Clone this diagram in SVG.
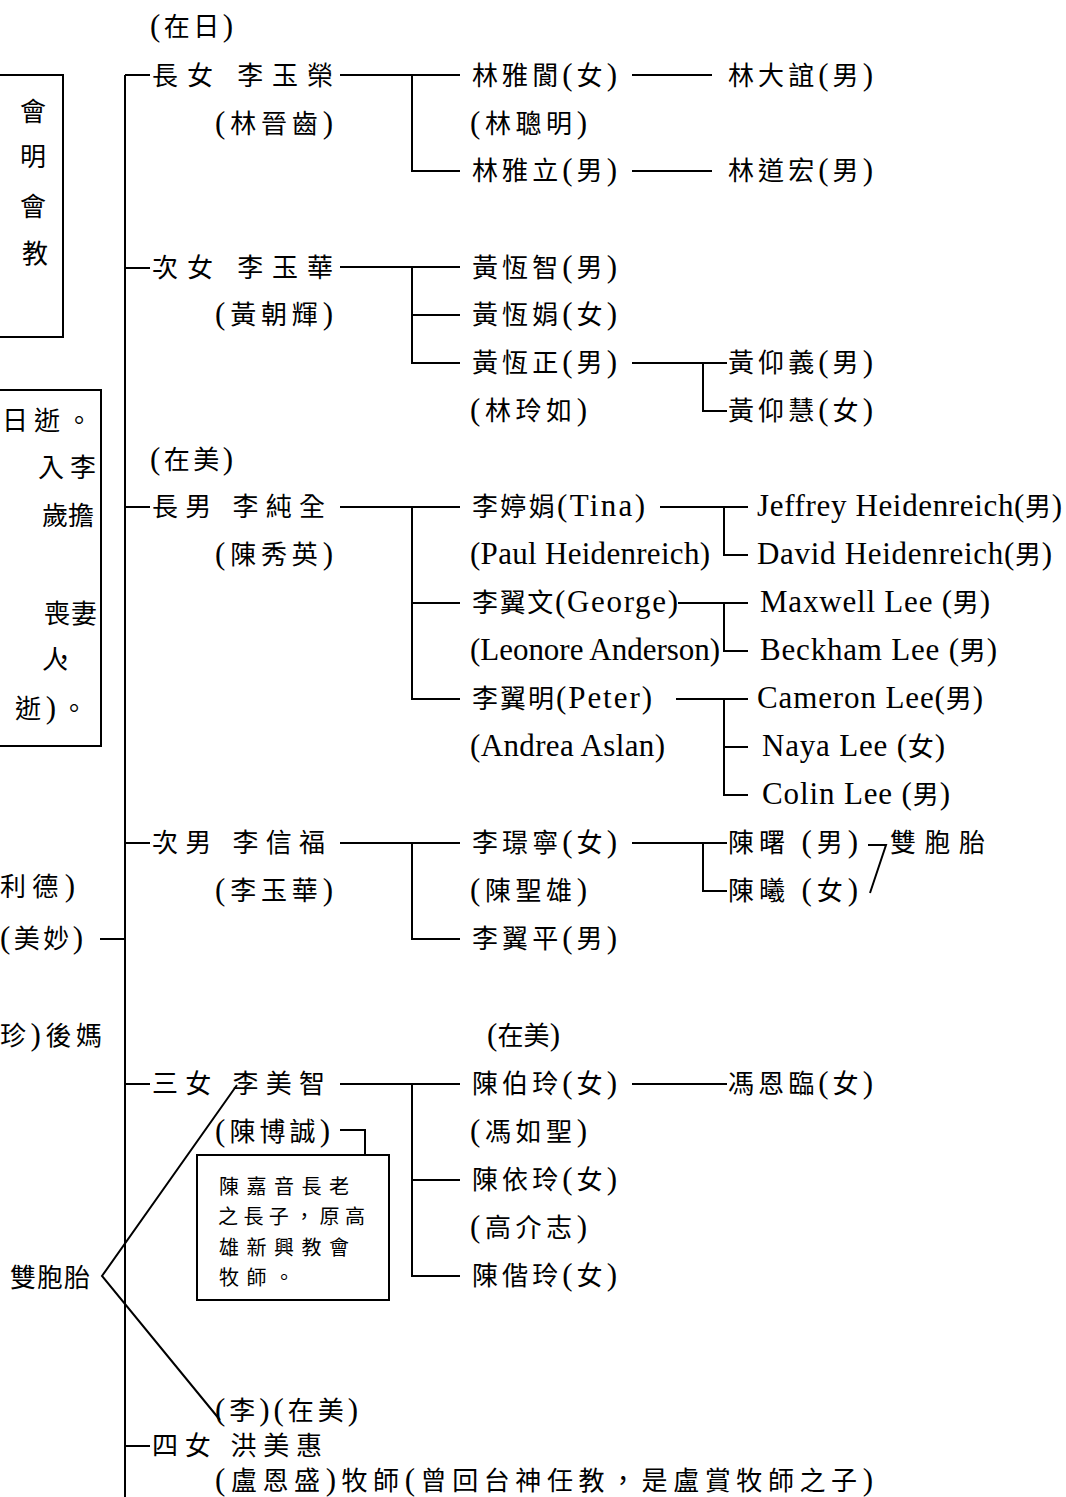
<svg xmlns="http://www.w3.org/2000/svg" width="1066" height="1497" viewBox="0 0 1066 1497">
<style>
.t{font-family:"Liberation Serif","Noto Sans CJK TC",serif;font-size:26px;fill:#000}
.e{font-size:31px}
.s{font-size:20px}
.ln{stroke:#000;stroke-width:2;fill:none}
.bx{stroke:#000;stroke-width:2;fill:none}
</style>
<rect width="1066" height="1497" fill="#fff"/>

<g id="leftbox1">
<rect class="bx" x="-10" y="75" width="73" height="262"/>
<text class="t" x="20" y="121">會</text>
<text class="t" x="20" y="166">明</text>
<text class="t" x="20" y="216">會</text>
<text class="t" x="22" y="263">教</text>
</g>

<g id="leftbox2">
<rect class="bx" x="-10" y="390" width="111" height="356"/>
<text class="t" x="2" y="430" textLength="90" lengthAdjust="spacing">日逝。</text>
<text class="t" x="38" y="477" textLength="58" lengthAdjust="spacing">入李</text>
<text class="t" x="42" y="525" textLength="52" lengthAdjust="spacing">歲擔</text>
<text class="t" x="44" y="623" textLength="53" lengthAdjust="spacing">喪妻</text>
<text class="t" x="42" y="669" textLength="35" lengthAdjust="spacing">人，</text>
<text class="t" x="15" y="718" textLength="72" lengthAdjust="spacing">逝<tspan class="e">)</tspan>。</text>
</g>

<g id="leftnotes">
<text class="t" x="0" y="896" textLength="75" lengthAdjust="spacing">利德<tspan class="e">)</tspan></text>
<text class="t" x="0" y="948" textLength="83" lengthAdjust="spacing"><tspan class="e">(</tspan>美妙<tspan class="e">)</tspan></text>
<text class="t" x="0" y="1045" textLength="102" lengthAdjust="spacing">珍<tspan class="e">)</tspan>後媽</text>
<text class="t" x="10" y="1287" textLength="80" lengthAdjust="spacing">雙胞胎</text>
</g>

<g id="connectors">
<path class="ln" d="M125 75 V1497 M125 75 H150 M125 268 H150 M125 507 H150 M125 843 H150 M100 939 H125 M125 1084 H150 M125 1446 H150"/>
<path class="ln" d="M340 75 H460 M412 75 V171 H460"/>
<path class="ln" d="M340 267 H460 M412 267 V363 H460 M412 315 H460"/>
<path class="ln" d="M340 507 H460 M412 507 V699 H460 M412 603 H460"/>
<path class="ln" d="M340 843 H460 M412 843 V939 H460"/>
<path class="ln" d="M340 1084 H460 M412 1084 V1276 H460 M412 1180 H460"/>
<path class="ln" d="M632 75 H712 M632 171 H712"/>
<path class="ln" d="M632 363 H727 M703 363 V411 H727"/>
<path class="ln" d="M660 507 H748 M724 507 V555 H748"/>
<path class="ln" d="M678 603 H748 M724 603 V651 H748"/>
<path class="ln" d="M676 699 H748 M724 699 V795 H748 M724 747 H748"/>
<path class="ln" d="M632 843 H727 M703 843 V891 H727"/>
<path class="ln" d="M632 1084 H727"/>
<path class="ln" d="M868 845 H886 L870 893"/>
<path class="ln" d="M340 1130 H365 V1155"/>
<path class="ln" d="M237 1085 L102 1276 L220 1420"/>
</g>

<g id="n-zairi"><text class="t" x="150" y="36" textLength="83" lengthAdjust="spacing"><tspan class="e">(</tspan>在日<tspan class="e">)</tspan></text></g>
<g id="n-yurong">
<text class="t" x="152" y="85" textLength="181" lengthAdjust="spacing">長女 李玉榮</text>
<text class="t" x="215" y="133" textLength="118" lengthAdjust="spacing"><tspan class="e">(</tspan>林晉齒<tspan class="e">)</tspan></text>
</g>
<g id="n-yaxian">
<text class="t" x="472" y="85" textLength="145" lengthAdjust="spacing">林雅閬<tspan class="e">(</tspan>女<tspan class="e">)</tspan></text>
<text class="t" x="470" y="133" textLength="117" lengthAdjust="spacing"><tspan class="e">(</tspan>林聰明<tspan class="e">)</tspan></text>
</g>
<g id="n-yali"><text class="t" x="472" y="180" textLength="145" lengthAdjust="spacing">林雅立<tspan class="e">(</tspan>男<tspan class="e">)</tspan></text></g>
<g id="n-dayi"><text class="t" x="728" y="85" textLength="145" lengthAdjust="spacing">林大誼<tspan class="e">(</tspan>男<tspan class="e">)</tspan></text></g>
<g id="n-daohong"><text class="t" x="728" y="180" textLength="145" lengthAdjust="spacing">林道宏<tspan class="e">(</tspan>男<tspan class="e">)</tspan></text></g>

<g id="n-yuhua">
<text class="t" x="152" y="277" textLength="181" lengthAdjust="spacing">次女 李玉華</text>
<text class="t" x="215" y="324" textLength="118" lengthAdjust="spacing"><tspan class="e">(</tspan>黃朝輝<tspan class="e">)</tspan></text>
</g>
<g id="n-hengzhi"><text class="t" x="472" y="277" textLength="145" lengthAdjust="spacing">黃恆智<tspan class="e">(</tspan>男<tspan class="e">)</tspan></text></g>
<g id="n-hengjuan"><text class="t" x="472" y="324" textLength="145" lengthAdjust="spacing">黃恆娟<tspan class="e">(</tspan>女<tspan class="e">)</tspan></text></g>
<g id="n-hengzheng">
<text class="t" x="472" y="372" textLength="145" lengthAdjust="spacing">黃恆正<tspan class="e">(</tspan>男<tspan class="e">)</tspan></text>
<text class="t" x="470" y="420" textLength="117" lengthAdjust="spacing"><tspan class="e">(</tspan>林玲如<tspan class="e">)</tspan></text>
</g>
<g id="n-yangyi"><text class="t" x="728" y="372" textLength="145" lengthAdjust="spacing">黃仰義<tspan class="e">(</tspan>男<tspan class="e">)</tspan></text></g>
<g id="n-yanghui"><text class="t" x="728" y="420" textLength="145" lengthAdjust="spacing">黃仰慧<tspan class="e">(</tspan>女<tspan class="e">)</tspan></text></g>

<g id="n-zaimei1"><text class="t" x="150" y="469" textLength="83" lengthAdjust="spacing"><tspan class="e">(</tspan>在美<tspan class="e">)</tspan></text></g>
<g id="n-chunquan">
<text class="t" x="152" y="516" textLength="173" lengthAdjust="spacing">長男 李純全</text>
<text class="t" x="215" y="564" textLength="118" lengthAdjust="spacing"><tspan class="e">(</tspan>陳秀英<tspan class="e">)</tspan></text>
</g>
<g id="n-tina">
<text class="t" x="472" y="516" textLength="173" lengthAdjust="spacing">李婷娟<tspan class="e">(Tina)</tspan></text>
<text class="t" x="470" y="564" textLength="240" lengthAdjust="spacing"><tspan class="e">(Paul Heidenreich)</tspan></text>
</g>
<g id="n-george">
<text class="t" x="472" y="612" textLength="206" lengthAdjust="spacing">李翼文<tspan class="e">(George)</tspan></text>
<text class="t" x="470" y="660" textLength="250" lengthAdjust="spacing"><tspan class="e">(Leonore Anderson)</tspan></text>
</g>
<g id="n-peter">
<text class="t" x="472" y="708" textLength="180" lengthAdjust="spacing">李翼明<tspan class="e">(Peter)</tspan></text>
<text class="t" x="470" y="756" textLength="195" lengthAdjust="spacing"><tspan class="e">(Andrea Aslan)</tspan></text>
</g>
<g id="n-jeffrey"><text class="t" x="757" y="516" textLength="305" lengthAdjust="spacing"><tspan class="e">Jeffrey Heidenreich(</tspan>男<tspan class="e">)</tspan></text></g>
<g id="n-david"><text class="t" x="757" y="564" textLength="295" lengthAdjust="spacing"><tspan class="e">David Heidenreich(</tspan>男<tspan class="e">)</tspan></text></g>
<g id="n-maxwell"><text class="t" x="760" y="612" textLength="230" lengthAdjust="spacing"><tspan class="e">Maxwell Lee (</tspan>男<tspan class="e">)</tspan></text></g>
<g id="n-beckham"><text class="t" x="760" y="660" textLength="237" lengthAdjust="spacing"><tspan class="e">Beckham Lee (</tspan>男<tspan class="e">)</tspan></text></g>
<g id="n-cameron"><text class="t" x="757" y="708" textLength="226" lengthAdjust="spacing"><tspan class="e">Cameron Lee(</tspan>男<tspan class="e">)</tspan></text></g>
<g id="n-naya"><text class="t" x="762" y="756" textLength="183" lengthAdjust="spacing"><tspan class="e">Naya Lee (</tspan>女<tspan class="e">)</tspan></text></g>
<g id="n-colin"><text class="t" x="762" y="804" textLength="188" lengthAdjust="spacing"><tspan class="e">Colin Lee (</tspan>男<tspan class="e">)</tspan></text></g>

<g id="n-xinfu">
<text class="t" x="152" y="852" textLength="173" lengthAdjust="spacing">次男 李信福</text>
<text class="t" x="215" y="900" textLength="118" lengthAdjust="spacing"><tspan class="e">(</tspan>李玉華<tspan class="e">)</tspan></text>
</g>
<g id="n-jingning">
<text class="t" x="472" y="852" textLength="145" lengthAdjust="spacing">李璟寧<tspan class="e">(</tspan>女<tspan class="e">)</tspan></text>
<text class="t" x="470" y="900" textLength="117" lengthAdjust="spacing"><tspan class="e">(</tspan>陳聖雄<tspan class="e">)</tspan></text>
</g>
<g id="n-yiping"><text class="t" x="472" y="948" textLength="145" lengthAdjust="spacing">李翼平<tspan class="e">(</tspan>男<tspan class="e">)</tspan></text></g>
<g id="n-shu"><text class="t" x="728" y="852" textLength="130" lengthAdjust="spacing">陳曙 <tspan class="e">(</tspan>男<tspan class="e">)</tspan></text></g>
<g id="n-xi"><text class="t" x="728" y="900" textLength="130" lengthAdjust="spacing">陳曦 <tspan class="e">(</tspan>女<tspan class="e">)</tspan></text></g>
<g id="n-twins1"><text class="t" x="890" y="852" textLength="95" lengthAdjust="spacing">雙胞胎</text></g>

<g id="n-zaimei2"><text class="t" x="487" y="1045" textLength="73" lengthAdjust="spacing"><tspan class="e">(</tspan>在美<tspan class="e">)</tspan></text></g>
<g id="n-meizhi">
<text class="t" x="152" y="1093" textLength="173" lengthAdjust="spacing">三女 李美智</text>
<text class="t" x="215" y="1141" textLength="115" lengthAdjust="spacing"><tspan class="e">(</tspan>陳博誠<tspan class="e">)</tspan></text>
</g>
<g id="n-note">
<rect class="bx" x="197" y="1155" width="192" height="145"/>
<text class="t s" x="219" y="1194" textLength="130" lengthAdjust="spacing">陳嘉音長老</text>
<text class="t s" x="218" y="1224" textLength="147" lengthAdjust="spacing">之長子，原高</text>
<text class="t s" x="219" y="1255" textLength="130" lengthAdjust="spacing">雄新興教會</text>
<text class="t s" x="219" y="1285" textLength="75" lengthAdjust="spacing">牧師。</text>
</g>
<g id="n-boling">
<text class="t" x="472" y="1093" textLength="145" lengthAdjust="spacing">陳伯玲<tspan class="e">(</tspan>女<tspan class="e">)</tspan></text>
<text class="t" x="470" y="1141" textLength="117" lengthAdjust="spacing"><tspan class="e">(</tspan>馮如聖<tspan class="e">)</tspan></text>
</g>
<g id="n-enlin"><text class="t" x="728" y="1093" textLength="145" lengthAdjust="spacing">馮恩臨<tspan class="e">(</tspan>女<tspan class="e">)</tspan></text></g>
<g id="n-yiling">
<text class="t" x="472" y="1189" textLength="145" lengthAdjust="spacing">陳依玲<tspan class="e">(</tspan>女<tspan class="e">)</tspan></text>
<text class="t" x="470" y="1237" textLength="117" lengthAdjust="spacing"><tspan class="e">(</tspan>高介志<tspan class="e">)</tspan></text>
</g>
<g id="n-jieling"><text class="t" x="472" y="1285" textLength="145" lengthAdjust="spacing">陳偕玲<tspan class="e">(</tspan>女<tspan class="e">)</tspan></text></g>

<g id="n-meihui">
<text class="t" x="215" y="1420" textLength="143" lengthAdjust="spacing"><tspan class="e">(</tspan>李<tspan class="e">)(</tspan>在美<tspan class="e">)</tspan></text>
<text class="t" x="152" y="1455" textLength="170" lengthAdjust="spacing">四女 洪美惠</text>
<text class="t" x="215" y="1490" textLength="658" lengthAdjust="spacing"><tspan class="e">(</tspan>盧恩盛<tspan class="e">)</tspan>牧師<tspan class="e">(</tspan>曾回台神任教，是盧賞牧師之子<tspan class="e">)</tspan></text>
</g>
</svg>
